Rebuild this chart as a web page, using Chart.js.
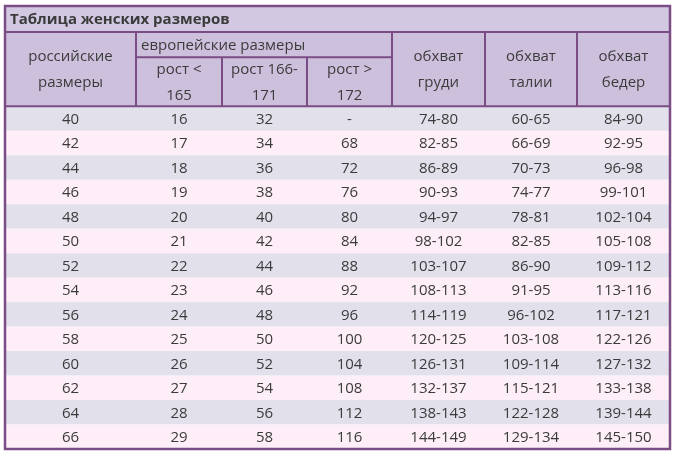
<!DOCTYPE html><html><head><meta charset="utf-8">
<script src="https://cdn.jsdelivr.net/npm/chart.js@4"></script>
<style>html,body{margin:0;padding:0;background:#fff}#w{width:680px;height:460px}</style></head><body>
<div id="w"><canvas id="c"></canvas></div>
<script>
const title = "Таблица женских размеров";
const ruSizes = ["40","42","44","46","48","50","52","54","56","58","60","62","64","66"];
const euLow = ["16","17","18","19","20","21","22","23","24","25","26","27","28","29"];
const euMid = ["32","34","36","38","40","42","44","46","48","50","52","54","56","58"];
const euHigh = ["-","68","72","76","80","84","88","92","96","100","104","108","112","116"];
const bust = ["74-80","82-85","86-89","90-93","94-97","98-102","103-107","108-113","114-119","120-125","126-131","132-137","138-143","144-149"];
const waist = ["60-65","66-69","70-73","74-77","78-81","82-85","86-90","91-95","96-102","103-108","109-114","115-121","122-128","129-134"];
const hips = ["84-90","92-95","96-98","99-101","102-104","105-108","109-112","113-116","117-121","122-126","127-132","133-138","139-144","145-150"];
const colHeads = [["российские","размеры"],["рост <","165"],["рост 166-","171"],["рост >","172"],["обхват","груди"],["обхват","талии"],["обхват","бедер"]];
const euHead = "европейские размеры";

const columns = [ruSizes, euLow, euMid, euHigh, bust, waist, hips];
// layout (axis units)
const colEdges = [0,131,217,302,387,480,572,665];
const titleH = 26, headH = 74, subSplit = 25, rowH = 24.4;
const totalH = titleH + headH + rowH * ruSizes.length;
const border = '#7b4c85', font = '"Open Sans", sans-serif';

const tablePlugin = {
  id:'table',
  beforeDatasetsDraw(chart){
    const ctx = chart.ctx, xs = chart.scales.x, ys = chart.scales.y;
    const X = v => xs.getPixelForValue(v), Y = v => ys.getPixelForValue(v);
    const rect = (x0,y0,x1,y1,fill)=>{ctx.fillStyle=fill;ctx.fillRect(X(x0),Y(y0),X(x1)-X(x0),Y(y1)-Y(y0));};
    const line = (x0,y0,x1,y1,w)=>{ctx.strokeStyle=border;ctx.lineWidth=w;ctx.beginPath();ctx.moveTo(X(x0),Y(y0));ctx.lineTo(X(x1),Y(y1));ctx.stroke();};
    const text = (s,x,y,f,c,al)=>{ctx.font=f;ctx.fillStyle=c||'#3b3b3b';ctx.textAlign=al||'center';ctx.textBaseline='middle';ctx.fillText(s,X(x),Y(y));};
    const W = colEdges[colEdges.length-1];
    rect(0,0,W,titleH,'#d3c8e1');
    rect(0,titleH,W,titleH+headH,'#cdc0dd');
    ruSizes.forEach((_,r)=>{const y0=titleH+headH+r*rowH;rect(0,y0,W,y0+rowH,r%2?'#fdeef7':'#e1e0eb');});
    ctx.font='bold 15px '+font;ctx.fillStyle='#3b3b3b';ctx.textAlign='left';ctx.textBaseline='middle';
    ctx.fillText(title,X(5),Y(titleH/2+1));
    line(0,titleH,W,titleH,2);
    line(0,titleH+headH,W,titleH+headH,2);
    line(colEdges[1],titleH+subSplit,colEdges[4],titleH+subSplit,2);
    [1,4,5,6].forEach(i=>line(colEdges[i],titleH,colEdges[i],titleH+headH,2));
    [2,3].forEach(i=>line(colEdges[i],titleH+subSplit,colEdges[i],titleH+headH,2));
    const hf='15px '+font;
    text(euHead,colEdges[1]+5,titleH+subSplit/2+1,hf,null,'left');
    colHeads.forEach((h,i)=>{
      const cx=(colEdges[i]+colEdges[i+1])/2;
      if(i>=1&&i<=3){text(h[0],cx,titleH+subSplit+13,hf);text(h[1],cx,titleH+subSplit+38,hf);}
      else{text(h[0],cx,titleH+headH/2-12,hf);text(h[1],cx,titleH+headH/2+13,hf);}
    });
    columns.forEach((col,i)=>{
      const cx=(colEdges[i]+colEdges[i+1])/2;
      col.forEach((v,r)=>text(v,cx,titleH+headH+r*rowH+rowH/2+1,'15px '+font));
    });
    ctx.strokeStyle=border;ctx.lineWidth=2.5;ctx.strokeRect(X(0),Y(0),X(W)-X(0),Y(totalH)-Y(0));
  }
};
new Chart(document.getElementById('c'),{
  type:'scatter',
  data:{datasets:[{data:[]}]},
  options:{responsive:true,maintainAspectRatio:false,animation:false,
    layout:{padding:{left:5,top:6,right:10,bottom:11}},
    plugins:{legend:{display:false},tooltip:{enabled:false}},
    scales:{x:{type:'linear',min:0,max:colEdges[colEdges.length-1],display:false},
            y:{type:'linear',min:0,max:totalH,reverse:true,display:false}}},
  plugins:[tablePlugin]
});
</script></body></html>
